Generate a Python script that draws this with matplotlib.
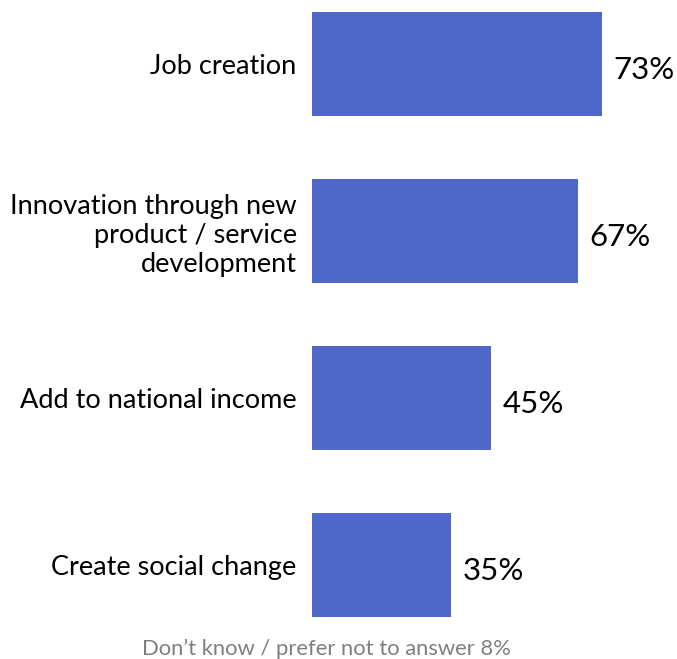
import numpy as np
from matplotlib import pyplot as plt

# survey results
categories = ["Job creation",
              "Innovation through new\nproduct / service\ndevelopment",
              "Add to national income",
              "Create social change"]
shares = [73, 67, 45, 35]  # percent of respondents
footnote = "Don\u2019t know / prefer not to answer 8%"

plt.rcParams['font.family'] = ['Lato', 'DejaVu Sans']

fig = plt.figure(figsize=(6.77, 6.59), dpi=100)
ax = fig.add_axes([312 / 677, 0, 365 / 677, 1])

ypos = np.arange(len(categories))
ax.barh(ypos, shares, height=0.623, color='#4E67C8')

ax.set_xlim(0, 365 / 3.97)
ax.set_ylim(3 + 94 / 167, -64 / 167)

ax.set_yticks(ypos)
ax.set_yticklabels(categories, fontsize=19.5, linespacing=1.2)
ax.tick_params(axis='y', length=0, pad=11)
ax.set_xticks([])
for s in ax.spines.values():
    s.set_visible(False)

# value labels to the right of each bar
for y, v in zip(ypos, shares):
    ax.annotate(f"{v}%", (v, y), xytext=(8.5, -4), textcoords='offset points',
                ha='left', va='center', fontsize=22.5)

fig.text(326 / 677, 0.006, footnote, ha='center', va='baseline',
         fontsize=15.8, color='#7F7F7F')

fig.savefig('out.png', dpi=100)
